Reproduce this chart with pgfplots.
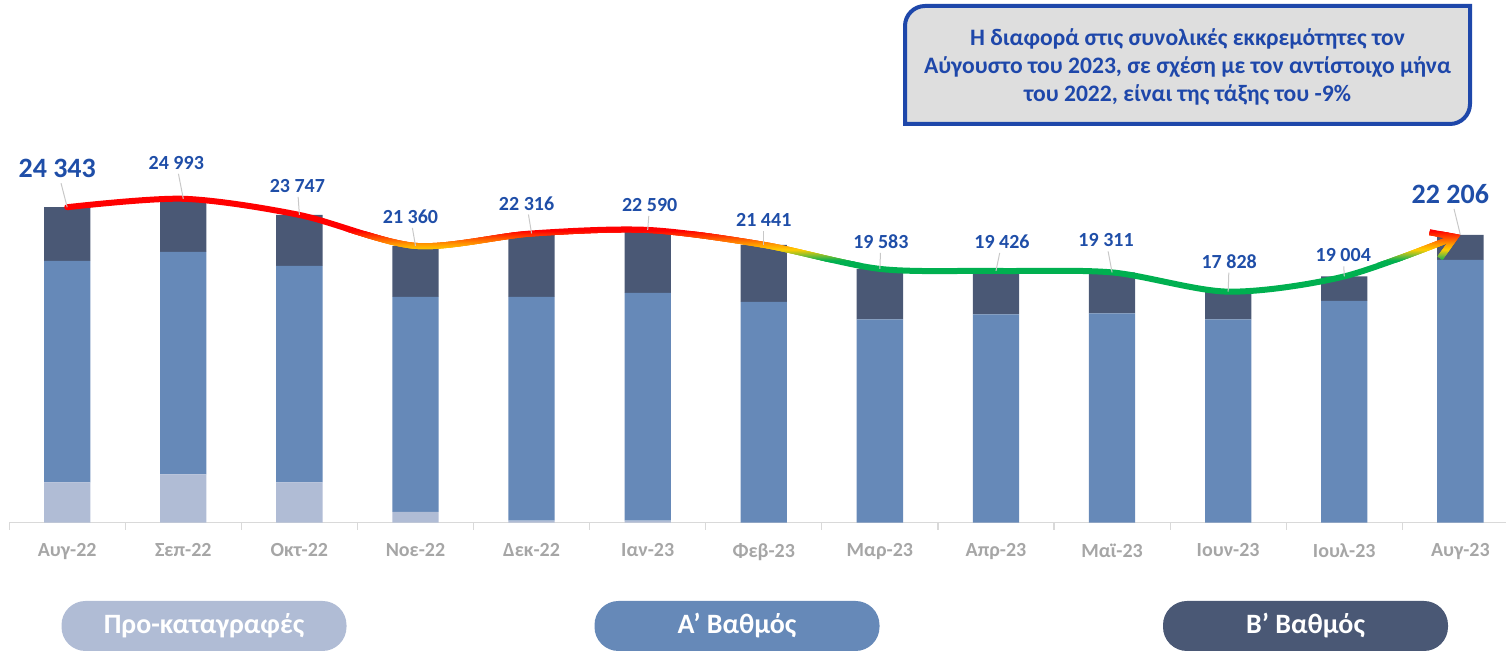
\documentclass[border=0pt]{standalone}
\usepackage{fontspec}
\setmainfont{Carlito}
\usepackage{pgfplots}
\usepackage{pgfplotstable}
\pgfplotsset{compat=1.18}
\usetikzlibrary{arrows.meta}

\definecolor{prefill}{HTML}{B0BCD5}
\definecolor{firstfill}{HTML}{6689B8}
\definecolor{secondfill}{HTML}{4A5875}
\definecolor{valblue}{HTML}{1F4EA8}
\definecolor{boxblue}{HTML}{1E47AA}
\definecolor{boxgray}{HTML}{DEDEDE}
\definecolor{ticktext}{HTML}{A6A6A6}
\definecolor{axisgray}{HTML}{D9D9D9}
\definecolor{leadgray}{HTML}{C8C8C8}
% trend line gradient (by height)
\definecolor{cR}{HTML}{FF0000}
\definecolor{cO}{HTML}{FF5A00}
\definecolor{cA}{HTML}{FFA000}
\definecolor{cY}{HTML}{FFCC00}
\definecolor{cL}{HTML}{8DBF2F}
\definecolor{cG}{HTML}{00B050}

% stacked parts per month
\pgfplotstableread{
idx pre first second
0  3119 17085 4139
1  3736 17162 4095
2  3119 16700 3928
3   826 16600 3934
4   155 17264 4897
5   155 17570 4865
6     0 17031 4410
7     0 15696 3887
8     0 16082 3344
9     0 16159 3152
10    0 15696 2132
11    0 17109 1895
12    0 20274 1932
}\bars

% totals, label offsets (px) and label size
\pgfplotstableread{
idx total dx dy fs
0  24343 -10 39 14
1  24993  -7 36 10
2  23747  -2 29 10
3  21360  -5 29 10
4  22316  -5 30 10
5  22590   2 25 10
6  21441   0 25 10
7  19583   1 27 10
8  19426   6 29 10
9  19311  -6 32 10
10 17828   1 30 10
11 19004  -1 21 10
12 22206 -10 41 14
}\totals

\pgfplotsset{
  geom/.style={at={(4.575pt,64.65pt)}, anchor=south west, scale only axis,
    width=748.425pt, height=194.4pt, xmin=-0.5, xmax=12.393, ymin=0, ymax=30000},
  trend/.style={smooth, line width=3pt, line cap=round,
    -{Straight Barb[length=11pt, width=14pt]}},
}

% one horizontal slice of the trend line, pixel rows #1..#2
\newcommand{\curveband}[3]{%
  \begin{scope}
    \clip (0pt,{(326-0.5*#2-0.2)*1pt}) rectangle (753pt,{(326-0.5*#1+0.2)*1pt});
    \begin{axis}[geom, hide axis]
      \addplot[trend, draw=#3] table[x=idx, y=total] {\totals};
    \end{axis}
  \end{scope}}

\newcommand{\gradseg}[4]{%
  \pgfmathtruncatemacro{\segend}{#2-1}
  \foreach \bandtop in {#1,...,\segend}{%
    \pgfmathtruncatemacro{\bandmix}{(\bandtop+0.5-#1)*100/(#2-#1)}
    \pgfmathtruncatemacro{\bandbot}{\bandtop+1}
    \colorlet{bandcol}{#4!\bandmix!#3}
    \curveband{\bandtop}{\bandbot}{bandcol}
  }}

\begin{document}
\begin{tikzpicture}
\path[use as bounding box] (0pt,0pt) rectangle (753pt,326pt);

\begin{axis}[geom, ybar stacked, bar width=23.15pt,
    axis x line*=bottom, axis y line=none, ytick=\empty,
    axis line style={draw=axisgray, line width=0.75pt},
    xtick={0,...,12},
    xticklabels={Αυγ-22,Σεπ-22,Οκτ-22,Νοε-22,Δεκ-22,Ιαν-23,Φεβ-23,Μαρ-23,Απρ-23,Μαϊ-23,Ιουν-23,Ιουλ-23,Αυγ-23},
    major tick length=0pt,
    minor xtick={-0.5,0.5,...,11.5},
    minor tick length=3.5pt, tick align=outside,
    minor x tick style={draw=axisgray, line width=0.6pt},
    xticklabel style={font=\fontsize{10}{10}\selectfont\bfseries, text=ticktext, yshift=-7pt},
  ]
  \addplot[fill=prefill, draw=none] table[x=idx, y=pre] {\bars};
  \addplot[fill=firstfill, draw=none] table[x=idx, y=first] {\bars};
  \addplot[fill=secondfill, draw=none] table[x=idx, y=second] {\bars};
\end{axis}

% trend line, coloured by height
\curveband{0}{232}{cR}
\gradseg{232}{240}{cR}{cO}
\gradseg{240}{246}{cO}{cA}
\gradseg{246}{251}{cA}{cY}
\gradseg{251}{256}{cY}{cL}
\gradseg{256}{262}{cL}{cG}
\curveband{262}{652}{cG}

% value labels with leader lines
\begin{axis}[geom, hide axis, clip=false]
  \addplot[draw=leadgray, line width=0.5pt,
    quiver={u=\thisrow{dx}*(\thisrow{dy}-\thisrow{fs}-1)/\thisrow{dy}/116.1,
            v=(\thisrow{dy}-\thisrow{fs}-1)*77.16}]
    table[x=idx, y=total] {\totals};
  \addplot[draw=none, point meta=y,
    visualization depends on={\thisrow{dx}\as\lblx},
    visualization depends on={\thisrow{dy}\as\lbly},
    visualization depends on={\thisrow{fs}\as\lblfs},
    nodes near coords,
    nodes near coords style={anchor=center, xshift=\lblx*0.5pt, yshift=\lbly*0.5pt,
      text=valblue, font=\fontsize{\lblfs}{\lblfs}\selectfont\bfseries},
    /pgf/number format/.cd, fixed, precision=0, 1000 sep={\ }, assume math mode=true]
    table[x=idx, y=total] {\totals};
\end{axis}

% note box
\draw[boxblue, fill=boxgray, line width=2pt]
  (452.5pt,264pt) -- (452.5pt,313pt) arc[start angle=180, end angle=90, radius=10pt]
  -- (735pt,323pt) -- (735pt,274pt) arc[start angle=0, end angle=-90, radius=10pt] -- cycle;
\node[align=center, text=boxblue, font=\fontsize{11.8}{14}\selectfont\bfseries]
  at (593.75pt,292.5pt)
  {Η διαφορά στις συνολικές εκκρεμότητες τον\\Αύγουστο του 2023, σε σχέση με τον αντίστοιχο μήνα\\του 2022, είναι της τάξης του -9\%};

% legend
\tikzset{pill/.style={rounded corners=12pt, minimum width=142.5pt, minimum height=25pt,
  inner sep=0pt, text=white, font=\fontsize{14}{14}\selectfont\bfseries}}
\node[pill, fill=prefill] at (102pt,13pt) {Προ-καταγραφές};
\node[pill, fill=firstfill] at (368.5pt,13pt) {Α’ Βαθμός};
\node[pill, fill=secondfill] at (652.75pt,13pt) {Β’ Βαθμός};
\end{tikzpicture}
\end{document}
